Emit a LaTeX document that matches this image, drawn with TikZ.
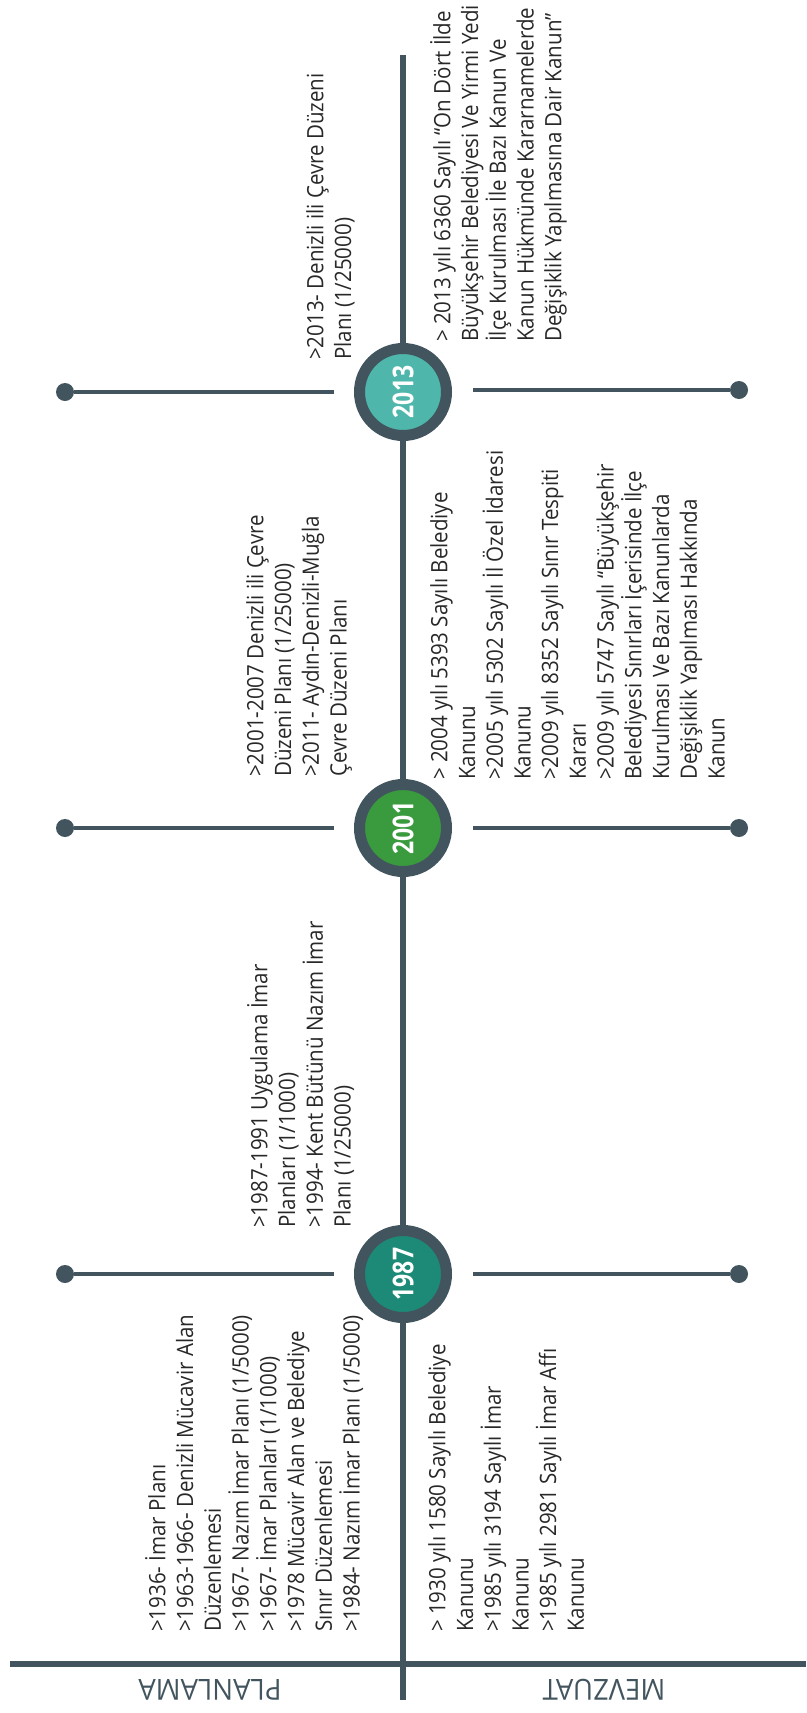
\documentclass[tikz,border=0pt]{standalone}
\usepackage{fontspec}
\setmainfont{Open Sans}
\usepackage{tikz}

\definecolor{slate}{RGB}{66,84,94}
\definecolor{textgray}{RGB}{40,40,40}
\definecolor{c1987}{RGB}{28,138,118}
\definecolor{c2001}{RGB}{58,154,62}
\definecolor{c2013}{RGB}{78,182,170}

\newcommand{\yearlabel}[1]{\rotatebox{90}{\scalebox{1}[1.25]{#1}}}

\begin{document}
\begin{tikzpicture}[x=1pt, y=1pt,
    mainline/.style={draw=slate, line width=6pt},
    spoke/.style={draw=slate, line width=4pt},
    dot/.style={circle, fill=slate, minimum size=18pt, inner sep=0pt},
    yearnode/.style={
        circle, draw=slate, line width=11pt,
        minimum size=87pt, inner sep=0pt,
        text=white, font=\fontsize{23}{26}\selectfont\bfseries
    },
    listtext/.style={
        rotate=90, yscale=1.1, anchor=north west, align=left,
        inner sep=0pt, text=textgray,
        font=\fontsize{20.5}{25.2}\selectfont,
        execute at begin node=\strut
    },
    heading/.style={rotate=180, xscale=0.95, inner sep=0pt, text=slate,
        font=\fontsize{29}{32}\selectfont},
]
\useasboundingbox (0,0) rectangle (806,-1713);

% Eksenler
\coordinate (top)    at (403,-55);
\coordinate (bottom) at (403,-1700);
\coordinate (baseL)  at (10,-1664);
\coordinate (baseR)  at (806,-1664);
\draw[mainline] (top) -- (bottom);
\draw[mainline] (baseL) -- (baseR);

% Yillar
\node[yearnode, fill=c2013] (y2013) at (403,-392)  {\yearlabel{2013}};
\node[yearnode, fill=c2001] (y2001) at (403,-828)  {\yearlabel{2001}};
\node[yearnode, fill=c1987] (y1987) at (403,-1274) {\yearlabel{1987}};

% Kollar
\node[dot] (l2013) at (65,-392)   {};
\node[dot] (r2013) at (739,-390)  {};
\node[dot] (l2001) at (65,-828)   {};
\node[dot] (r2001) at (739,-828)  {};
\node[dot] (l1987) at (65,-1274)  {};
\node[dot] (r1987) at (739,-1274) {};

\draw[spoke] (l2013) -- ([xshift=-69pt]y2013.center);
\draw[spoke] ([xshift=70pt,yshift=2pt]y2013.center) -- (r2013);
\draw[spoke] (l2001) -- ([xshift=-69pt]y2001.center);
\draw[spoke] ([xshift=70pt]y2001.center) -- (r2001);
\draw[spoke] (l1987) -- ([xshift=-69pt]y1987.center);
\draw[spoke] ([xshift=70pt]y1987.center) -- (r1987);

%% PLANLAMA
\node[listtext] (p2013) at (306,-360)
    {>2013- Denizli ili Çevre Düzeni\\Planı (1/25000)};
\node[listtext] (p2001) at (246,-777)
    {>2001-2007 Denizli ili Çevre\\Düzeni Planı (1/25000)\\>2011- Aydın-Denizli-Muğla\\Çevre Düzeni Planı};
\node[listtext] (p1987) at (247,-1228)
    {>1987-1991 Uygulama İmar\\Planları (1/1000)\\>1994- Kent Bütünü Nazım İmar\\Planı (1/25000)};
\node[listtext] (p1936) at (145,-1632)
    {>1936- İmar Planı\\>1963-1966- Denizli Mücavir Alan\\Düzenlemesi\\>1967- Nazım İmar Planı (1/5000)\\>1967- İmar Planları (1/1000)\\>1978 Mücavir Alan ve Belediye\\Sınır Düzenlemesi\\>1984- Nazım İmar Planı (1/5000)};

%% MEVZUAT
\node[listtext] (m2013) at (430,-342)
    {> 2013 yılı 6360 Sayılı “On Dört İlde\\Büyükşehir Belediyesi Ve Yirmi Yedi\\İlçe Kurulması İle Bazı Kanun Ve\\Kanun Hükmünde Kararnamelerde\\Değişiklik Yapılmasına Dair Kanun”};
\node[listtext] (m2001) at (430,-780)
    {> 2004 yılı 5393 Sayılı Belediye\\Kanunu\\>2005 yılı 5302 Sayılı İl Özel İdaresi\\Kanunu\\>2009 yılı 8352 Sayılı Sınır Tespiti\\Kararı\\>2009 yılı 5747 Sayılı “Büyükşehir\\Belediyesi Sınırları İçerisinde İlçe\\Kurulması Ve Bazı Kanunlarda\\Değişiklik Yapılması Hakkında\\Kanun};
\node[listtext] (m1930) at (428,-1632)
    {> 1930 yılı 1580 Sayılı Belediye\\Kanunu\\>1985 yılı 3194 Sayılı İmar\\Kanunu\\>1985 yılı 2981 Sayılı İmar Affı\\Kanunu};

% Basliklar
\node[heading] (planlama) at (210,-1690) {PLANLAMA};
\node[heading] (mevzuat)  at (604,-1690) {MEVZUAT};

\end{tikzpicture}
\end{document}
